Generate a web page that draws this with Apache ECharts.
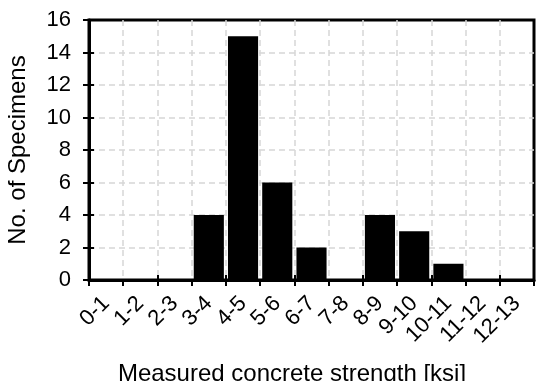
<!DOCTYPE html>
<html>
<head>
<meta charset="utf-8">
<script src="https://cdn.jsdelivr.net/npm/echarts@6/dist/echarts.min.js"></script>
<style>
  html, body { margin: 0; padding: 0; background: #fff; }
  #chart { width: 536px; height: 381px; }
</style>
</head>
<body>
<div id="chart"></div>
<script>
// Strength bins (ksi) and number of specimens in each bin
const strengthBins = ['0-1', '1-2', '2-3', '3-4', '4-5', '5-6', '6-7', '7-8', '8-9', '9-10', '10-11', '11-12', '12-13'];
const specimenCounts = [0, 0, 0, 4, 15, 6, 2, 0, 4, 3, 1, 0, 0];
const countTicks = { min: 0, max: 16, step: 2 };

const FONT = '"Liberation Sans", Arial, sans-serif';
const gridDash = { color: '#d6d6d6', width: 1.5, type: [6, 4] };
const frameLine = { color: '#000', width: 3 };
const tickLine = { color: '#000', width: 2 };
const plotRect = { left: 89, right: 2, top: 20, bottom: 101, outerBoundsMode: 'none' };

const chart = echarts.init(document.getElementById('chart'), null, { renderer: 'canvas' });

chart.setOption({
  animation: false,
  backgroundColor: '#fff',
  grid: [
    // main plot, framed on all four sides
    Object.assign({ show: true, borderColor: '#000', borderWidth: 3, backgroundColor: 'transparent' }, plotRect),
    // same rectangle, carries the inner half of the crossing ticks
    Object.assign({}, plotRect)
  ],
  xAxis: [
    {
      type: 'category',
      gridIndex: 0,
      data: strengthBins,
      boundaryGap: true,
      axisLine: { show: true, lineStyle: frameLine },
      axisTick: { show: true, length: 6, lineStyle: tickLine },
      axisLabel: {
        rotate: 45, interval: 0, margin: 20,
        color: '#000', fontFamily: FONT, fontSize: 22
      },
      splitLine: { show: true, interval: 0, showMinLine: false, showMaxLine: false, lineStyle: gridDash },
      name: 'Measured concrete strength [ksi]',
      nameLocation: 'middle',
      nameGap: 82,
      nameTextStyle: { color: '#000', fontFamily: FONT, fontSize: 24, padding: [0, 39, 0, 0] }
    },
    {
      type: 'category',
      gridIndex: 1,
      data: strengthBins,
      axisLine: { show: false },
      axisTick: { show: true, inside: true, length: 5, lineStyle: tickLine },
      axisLabel: { show: false },
      splitLine: { show: false }
    }
  ],
  yAxis: [
    {
      type: 'value',
      gridIndex: 0,
      min: countTicks.min, max: countTicks.max, interval: countTicks.step,
      axisLine: { show: true, lineStyle: frameLine },
      axisTick: { show: true, length: 6, lineStyle: tickLine },
      axisLabel: { color: '#000', fontFamily: FONT, fontSize: 22, margin: 18 },
      splitLine: { show: true, showMinLine: false, showMaxLine: false, lineStyle: gridDash },
      name: 'No. of Specimens',
      nameLocation: 'middle',
      nameGap: 59,
      nameTextStyle: { color: '#000', fontFamily: FONT, fontSize: 24 }
    },
    {
      type: 'value',
      gridIndex: 1,
      min: countTicks.min, max: countTicks.max, interval: countTicks.step,
      axisLine: { show: false },
      axisTick: { show: true, inside: true, length: 5, lineStyle: tickLine },
      axisLabel: { show: false },
      splitLine: { show: false }
    }
  ],
  series: [
    {
      type: 'bar',
      xAxisIndex: 0,
      yAxisIndex: 0,
      data: specimenCounts,
      barCategoryGap: '12%',
      itemStyle: { color: '#000' },
      z: 3
    }
  ]
});
</script>
</body>
</html>
